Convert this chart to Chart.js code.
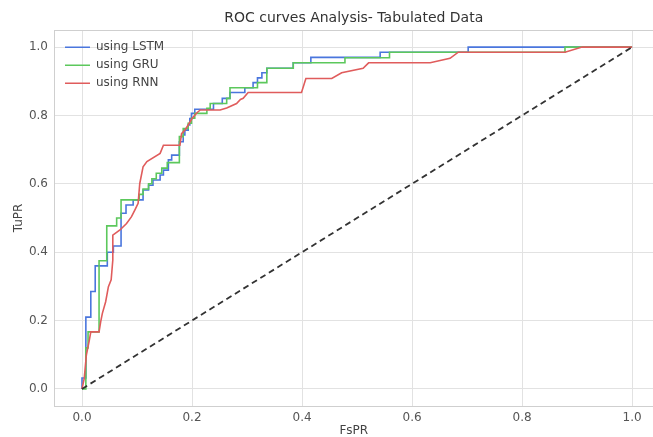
<!DOCTYPE html>
<html>
<head>
<meta charset="utf-8">
<script src="https://cdn.jsdelivr.net/npm/chart.js@4.4.0/dist/chart.umd.min.js"></script>
<style>
  html, body { margin: 0; padding: 0; background: #fff; overflow: hidden; }
  #wrap { width: 653px; height: 437px; position: relative; }
</style>
</head>
<body>
<div id="wrap"><canvas id="roc"></canvas></div>
<script>
// ROC points (false positive rate / true positive rate)
const lstmFpr = [0, 0, 0.007, 0.007, 0.016, 0.016, 0.024, 0.024, 0.046, 0.046, 0.057, 0.057, 0.071, 0.071, 0.080, 0.080, 0.093, 0.093, 0.111, 0.111, 0.121, 0.121, 0.129, 0.129, 0.142, 0.142, 0.148, 0.148, 0.157, 0.157, 0.163, 0.163, 0.177, 0.177, 0.184, 0.184, 0.187, 0.187, 0.193, 0.193, 0.196, 0.196, 0.199, 0.199, 0.205, 0.205, 0.239, 0.239, 0.255, 0.255, 0.269, 0.269, 0.296, 0.296, 0.311, 0.311, 0.319, 0.319, 0.327, 0.327, 0.336, 0.336, 0.384, 0.384, 0.416, 0.416, 0.542, 0.542, 0.702, 0.702, 1];
const lstmTpr = [0, 0.032, 0.032, 0.21, 0.21, 0.285, 0.285, 0.36, 0.36, 0.40, 0.40, 0.418, 0.418, 0.514, 0.514, 0.538, 0.538, 0.553, 0.553, 0.582, 0.582, 0.596, 0.596, 0.611, 0.611, 0.626, 0.626, 0.640, 0.640, 0.670, 0.670, 0.684, 0.684, 0.723, 0.723, 0.743, 0.743, 0.757, 0.757, 0.772, 0.772, 0.791, 0.791, 0.806, 0.806, 0.818, 0.818, 0.835, 0.835, 0.850, 0.850, 0.867, 0.867, 0.881, 0.881, 0.896, 0.896, 0.910, 0.910, 0.925, 0.925, 0.938, 0.938, 0.954, 0.954, 0.970, 0.970, 0.985, 0.985, 1, 1];

const gruFpr = [0, 0.007, 0.007, 0.011, 0.011, 0.031, 0.031, 0.045, 0.045, 0.063, 0.063, 0.071, 0.071, 0.104, 0.104, 0.111, 0.111, 0.121, 0.121, 0.127, 0.127, 0.135, 0.135, 0.145, 0.145, 0.155, 0.155, 0.177, 0.177, 0.184, 0.184, 0.193, 0.193, 0.199, 0.199, 0.205, 0.205, 0.227, 0.227, 0.233, 0.233, 0.263, 0.263, 0.269, 0.269, 0.319, 0.319, 0.336, 0.336, 0.384, 0.384, 0.478, 0.478, 0.559, 0.559, 0.878, 0.878, 1];
const gruTpr = [0, 0, 0.12, 0.12, 0.167, 0.167, 0.375, 0.375, 0.477, 0.477, 0.50, 0.50, 0.553, 0.553, 0.569, 0.569, 0.585, 0.585, 0.60, 0.60, 0.615, 0.615, 0.631, 0.631, 0.646, 0.646, 0.662, 0.662, 0.738, 0.738, 0.762, 0.762, 0.777, 0.777, 0.792, 0.792, 0.806, 0.806, 0.821, 0.821, 0.835, 0.835, 0.850, 0.850, 0.881, 0.881, 0.896, 0.896, 0.938, 0.938, 0.954, 0.954, 0.969, 0.969, 0.985, 0.985, 1, 1];

const rnnFpr = [0, 0.004, 0.008, 0.013, 0.016, 0.031, 0.034, 0.037, 0.043, 0.048, 0.053, 0.056, 0.056, 0.069, 0.081, 0.090, 0.096, 0.102, 0.105, 0.111, 0.118, 0.142, 0.148, 0.178, 0.181, 0.187, 0.193, 0.200, 0.209, 0.215, 0.251, 0.263, 0.281, 0.288, 0.293, 0.302, 0.399, 0.407, 0.454, 0.472, 0.511, 0.521, 0.633, 0.669, 0.684, 0.878, 0.909, 1];
const rnnTpr = [0, 0.03, 0.10, 0.14, 0.167, 0.167, 0.197, 0.221, 0.255, 0.299, 0.319, 0.377, 0.45, 0.465, 0.484, 0.504, 0.523, 0.543, 0.601, 0.650, 0.665, 0.689, 0.713, 0.713, 0.747, 0.757, 0.772, 0.791, 0.808, 0.816, 0.816, 0.822, 0.835, 0.847, 0.850, 0.867, 0.867, 0.908, 0.908, 0.925, 0.938, 0.954, 0.954, 0.967, 0.985, 0.985, 1, 1];

const chanceX = [0, 1];
const chanceY = [0, 1];

const seriesNames = ['using LSTM', 'using GRU', 'using RNN'];
const xTicks = [0, 0.2, 0.4, 0.6, 0.8, 1.0];
const yTicks = [0, 0.2, 0.4, 0.6, 0.8, 1.0];

const toPts = (xs, ys) => xs.map((x, i) => ({ x: x, y: ys[i] }));

Chart.defaults.font.family = "'DejaVu Sans', sans-serif";
Chart.defaults.color = '#555';

const gridCol = '#e2e2e2';
const edgeCol = '#cfcfcf';

const lineSet = (label, pts, color, order) => ({
  label, data: pts, borderColor: color, backgroundColor: color,
  borderWidth: 1.6, pointRadius: 0, tension: 0, fill: false, order,
  xAxisID: 'x', yAxisID: 'y'
});

// chartArea legends get top=0 after layout; pin it inside the plot's upper-left corner
const legendInside = {
  id: 'legendInside',
  afterLayout(chart) {
    const lg = chart.legend, ca = chart.chartArea;
    if (!lg) return;
    lg.left = ca.left + 4.5;
    lg.top = ca.top + 5.3;
  }
};

new Chart(document.getElementById('roc'), {
  type: 'line',
  data: {
    datasets: [
      lineSet(seriesNames[0], toPts(lstmFpr, lstmTpr), '#4a76dd', 3),
      lineSet(seriesNames[1], toPts(gruFpr, gruTpr), '#5cc85c', 2),
      lineSet(seriesNames[2], toPts(rnnFpr, rnnTpr), '#e05c5c', 1),
      { label: 'chance', data: toPts(chanceX, chanceY), borderColor: '#333', borderWidth: 1.8,
        borderDash: [6, 4], pointRadius: 0, tension: 0, fill: false, order: 0, xAxisID: 'x', yAxisID: 'y' }
    ]
  },
  plugins: [legendInside],
  options: {
    responsive: true, maintainAspectRatio: false, animation: false,
    layout: { padding: 0 },
    plugins: {
      title: { display: true, text: 'ROC curves Analysis- Tabulated Data', fullSize: false, color: '#333',
        font: { size: 14, weight: 'normal' }, padding: { top: 10, bottom: 3.2 } },
      legend: {
        position: 'chartArea', align: 'start',
        labels: {
          usePointStyle: true, pointStyle: 'line', pointStyleWidth: 25, boxHeight: 12,
          padding: 6, color: '#444', font: { size: 12 },
          filter: item => item.datasetIndex < 3,
          sort: (a, b) => a.datasetIndex - b.datasetIndex
        }
      },
      tooltip: { enabled: false }
    },
    scales: {
      x: {
        type: 'linear', position: 'bottom', min: -0.05, max: 1.038,
        afterBuildTicks: s => { s.ticks = xTicks.map(v => ({ value: v })); },
        afterFit: s => { s.height = 31; },
        ticks: { padding: 5, font: { size: 12 }, color: '#555', callback: v => v.toFixed(1) },
        grid: { color: gridCol, lineWidth: 1, drawTicks: false },
        border: { color: edgeCol },
        title: { display: true, text: 'FsPR', color: '#444', font: { size: 12, lineHeight: 1 }, padding: { top: 0, bottom: 0 } }
      },
      xTop: {
        type: 'linear', position: 'top', min: -0.05, max: 1.038,
        afterFit: s => { s.height = 0; },
        ticks: { display: false }, grid: { display: false },
        border: { color: edgeCol }
      },
      y: {
        type: 'linear', position: 'left', min: -0.05, max: 1.05,
        afterBuildTicks: s => { s.ticks = yTicks.map(v => ({ value: v })); },
        afterFit: s => { s.width = 54.5; },
        ticks: { padding: 6.5, font: { size: 12 }, color: '#555', callback: v => v.toFixed(1) },
        grid: { color: gridCol, lineWidth: 1, drawTicks: false },
        border: { color: edgeCol },
        title: { display: true, text: 'TuPR', color: '#444', font: { size: 12, lineHeight: 1 }, padding: { top: 12.5, bottom: 0 } }
      }
    }
  }
});
</script>
</body>
</html>
